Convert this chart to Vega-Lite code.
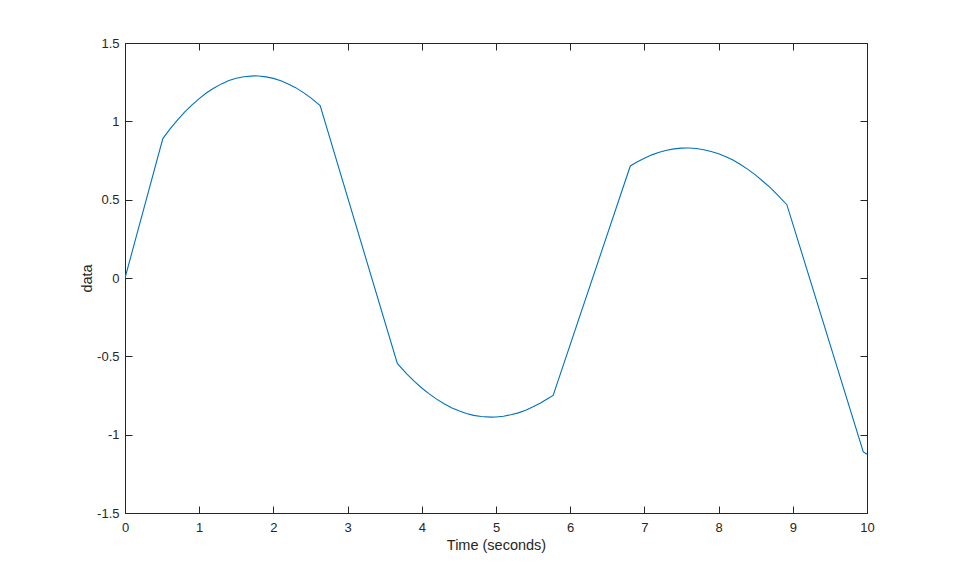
{
  "$schema": "https://vega.github.io/schema/vega-lite/v6.json",
  "width": 742,
  "height": 470,
  "autosize": {"type": "none"},
  "padding": {"left": 125, "top": 43, "right": 92, "bottom": 64},
  "background": "white",
  "config": {
    "view": {"stroke": "#262626", "strokeWidth": 1},
    "font": "Liberation Sans",
    "axis": {"grid": false, "labelFont": "Liberation Sans", "titleFont": "Liberation Sans", "labelColor": "#262626", "titleColor": "#262626", "domainColor": "#262626", "tickColor": "#262626", "labelFontSize": 13, "titleFontSize": 14.5, "titleFontWeight": "normal"}
  },
  "data": {"values": [
    {"t": 0, "v": 0},
    {"t": 0.51, "v": 0.89},
    {"t": 0.6, "v": 0.947},
    {"t": 0.7, "v": 1.004},
    {"t": 0.8, "v": 1.057},
    {"t": 0.9, "v": 1.104},
    {"t": 1.0, "v": 1.145},
    {"t": 1.1, "v": 1.182},
    {"t": 1.2, "v": 1.213},
    {"t": 1.3, "v": 1.239},
    {"t": 1.4, "v": 1.26},
    {"t": 1.5, "v": 1.275},
    {"t": 1.6, "v": 1.285},
    {"t": 1.74, "v": 1.29},
    {"t": 1.8, "v": 1.289},
    {"t": 1.9, "v": 1.284},
    {"t": 2.0, "v": 1.274},
    {"t": 2.1, "v": 1.259},
    {"t": 2.2, "v": 1.239},
    {"t": 2.3, "v": 1.215},
    {"t": 2.4, "v": 1.185},
    {"t": 2.5, "v": 1.151},
    {"t": 2.63, "v": 1.1},
    {"t": 3.67, "v": -0.545},
    {"t": 3.8, "v": -0.614},
    {"t": 3.9, "v": -0.66},
    {"t": 4.0, "v": -0.702},
    {"t": 4.1, "v": -0.74},
    {"t": 4.2, "v": -0.773},
    {"t": 4.3, "v": -0.803},
    {"t": 4.4, "v": -0.828},
    {"t": 4.5, "v": -0.848},
    {"t": 4.6, "v": -0.865},
    {"t": 4.7, "v": -0.877},
    {"t": 4.8, "v": -0.884},
    {"t": 4.93, "v": -0.888},
    {"t": 5.0, "v": -0.887},
    {"t": 5.1, "v": -0.882},
    {"t": 5.2, "v": -0.873},
    {"t": 5.3, "v": -0.861},
    {"t": 5.4, "v": -0.844},
    {"t": 5.5, "v": -0.822},
    {"t": 5.6, "v": -0.798},
    {"t": 5.7, "v": -0.769},
    {"t": 5.77, "v": -0.75},
    {"t": 6.81, "v": 0.715},
    {"t": 6.9, "v": 0.74},
    {"t": 7.0, "v": 0.765},
    {"t": 7.1, "v": 0.786},
    {"t": 7.2, "v": 0.803},
    {"t": 7.3, "v": 0.815},
    {"t": 7.4, "v": 0.824},
    {"t": 7.5, "v": 0.829},
    {"t": 7.57, "v": 0.83},
    {"t": 7.6, "v": 0.83},
    {"t": 7.7, "v": 0.827},
    {"t": 7.8, "v": 0.819},
    {"t": 7.9, "v": 0.808},
    {"t": 8.0, "v": 0.793},
    {"t": 8.1, "v": 0.774},
    {"t": 8.2, "v": 0.751},
    {"t": 8.3, "v": 0.723},
    {"t": 8.4, "v": 0.692},
    {"t": 8.5, "v": 0.657},
    {"t": 8.6, "v": 0.616},
    {"t": 8.7, "v": 0.575},
    {"t": 8.8, "v": 0.527},
    {"t": 8.92, "v": 0.468},
    {"t": 9.95, "v": -1.11},
    {"t": 10, "v": -1.125}
  ]},
  "resolve": {"axis": {"x": "independent", "y": "independent"}},
  "layer": [
    {
      "mark": {"type": "line", "color": "#0072BD", "strokeWidth": 1.1, "clip": true},
      "encoding": {
        "x": {"field": "t", "type": "quantitative", "scale": {"domain": [0, 10], "nice": false, "zero": false},
          "axis": {"title": "Time (seconds)", "values": [0,1,2,3,4,5,6,7,8,9,10], "labelExpr": "toString(datum.value)", "tickSize": -7, "labelPadding": 15, "titlePadding": 4, "labelFlush": false, "labelOverlap": false}},
        "y": {"field": "v", "type": "quantitative", "scale": {"domain": [-1.5, 1.5], "nice": false, "zero": false},
          "axis": {"title": "data", "values": [-1.5,-1,-0.5,0,0.5,1,1.5], "labelExpr": "toString(datum.value)", "tickSize": -7, "labelPadding": 13, "titlePadding": 2, "labelFlush": false, "labelOverlap": false}}
      }
    },
    {
      "mark": {"type": "line", "opacity": 0},
      "encoding": {
        "x": {"field": "t", "type": "quantitative", "scale": {"domain": [0, 10], "nice": false, "zero": false},
          "axis": {"orient": "top", "title": null, "labels": false, "values": [0,1,2,3,4,5,6,7,8,9,10], "tickSize": -7, "domain": false}},
        "y": {"field": "v", "type": "quantitative", "scale": {"domain": [-1.5, 1.5], "nice": false, "zero": false},
          "axis": {"orient": "right", "title": null, "labels": false, "values": [-1.5,-1,-0.5,0,0.5,1,1.5], "tickSize": -7, "domain": false}}
      }
    }
  ]
}
